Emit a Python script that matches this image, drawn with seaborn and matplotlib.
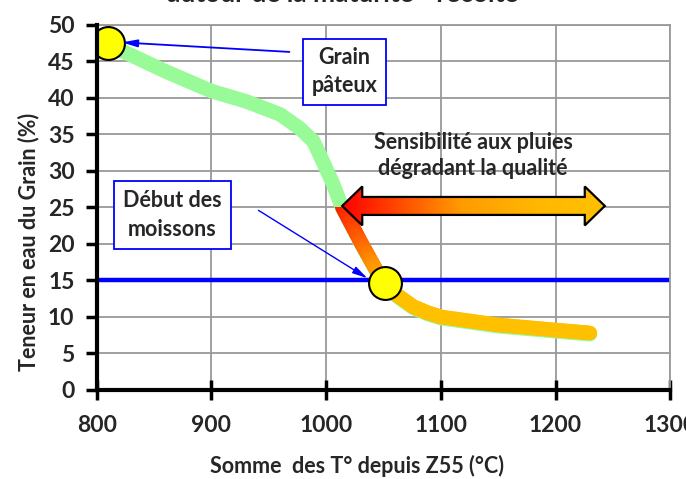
import numpy as np
import matplotlib
matplotlib.use("Agg")
import matplotlib.pyplot as plt
import matplotlib.transforms as mtransforms
from matplotlib.collections import LineCollection
from matplotlib.colors import LinearSegmentedColormap
from matplotlib.patches import Polygon, Rectangle
import seaborn as sns

# === DATA ===
SOMME_T = [810, 860, 900, 930, 960, 977, 989, 997, 1006, 1014, 1030, 1047, 1051, 1060, 1076, 1088, 1100, 1150, 1200, 1230]
TENEUR = [47.5, 43.8, 41.1, 39.7, 37.9, 36.0, 34.2, 31.5, 28.4, 25.1, 20.3, 15.5, 14.7, 13.2, 11.4, 10.6, 10.0, 8.9, 8.2, 7.8]
POINTS_X = [810, 1051]
POINTS_Y = [47.5, 14.7]
SEUIL_MOISSON = 15
DEBUT_SENSIBLE = 1014
X_TICKS = [800, 900, 1000, 1100, 1200, 1300]
Y_TICKS = [0, 5, 10, 15, 20, 25, 30, 35, 40, 45, 50]

# === STYLE ===
sns.set_style("whitegrid")
plt.rcParams["font.family"] = ["Lato", "DejaVu Sans"]
plt.rcParams["font.weight"] = "bold"
plt.rcParams["axes.labelweight"] = "bold"
FS = 15.5
FS_TICK = 16.5

fig = plt.figure(figsize=(6.86, 4.79), dpi=100)
ax = fig.add_axes([0.141, 0.186, 0.836, 0.762])

# green base curve, nudged down a hair so it peeks below the overlay
shift = mtransforms.offset_copy(ax.transData, fig=fig, x=0, y=-1.2, units="dots")
sns.lineplot(x=SOMME_T, y=TENEUR, ax=ax, color="#98fb98", linewidth=10.5,
             solid_capstyle="round", solid_joinstyle="round", transform=shift,
             sort=False, zorder=3)

# gradient overlay (red -> orange -> yellow-orange) from the start of the sensitive zone
xs = np.array(SOMME_T, dtype=float)
ys = np.array(TENEUR, dtype=float)
keep = xs >= DEBUT_SENSIBLE
xk, yk = xs[keep], ys[keep]
seg_x, seg_y = [], []
for i in range(len(xk) - 1):
    t = np.linspace(0, 1, 12, endpoint=False)
    seg_x.extend(xk[i] + t * (xk[i + 1] - xk[i]))
    seg_y.extend(yk[i] + t * (yk[i + 1] - yk[i]))
seg_x.append(xk[-1]); seg_y.append(yk[-1])
pts = np.column_stack([seg_x, seg_y]).reshape(-1, 1, 2)
segs = np.concatenate([pts[:-1], pts[1:]], axis=1)
curve_cmap = LinearSegmentedColormap.from_list(
    "curve", [(0, "#ff1a00"), (0.55, "#ff8800"), (0.85, "#ffbb00"), (1, "#ffc000")])
frac = np.clip((np.array(seg_x[:-1]) - DEBUT_SENSIBLE) / (1060 - DEBUT_SENSIBLE), 0, 1)
lc = LineCollection(segs, colors=curve_cmap(frac), linewidths=10.5, capstyle="round",
                    joinstyle="round", zorder=4)
ax.add_collection(lc)
# cut the rounded top end flat
clip = Rectangle((DEBUT_SENSIBLE - 30, 0), 400, yk[0], transform=ax.transData)
lc.set_clip_path(clip)

# harvest threshold
ax.axhline(SEUIL_MOISSON, color="#0000ff", linewidth=3.2, zorder=2.5)

# yellow markers
sns.scatterplot(x=POINTS_X, y=POINTS_Y, ax=ax, s=560, color="#ffff00",
                edgecolor="black", linewidth=1.5, zorder=6)

# double arrow with gradient fill
AX0, AX1, AY = 1014, 1243, 25.2
head_len, head_h, body_h = 17.5, 2.67, 1.23
arrow_xy = [(AX0, AY), (AX0 + head_len, AY + head_h), (AX0 + head_len, AY + body_h),
            (AX1 - head_len, AY + body_h), (AX1 - head_len, AY + head_h), (AX1, AY),
            (AX1 - head_len, AY - head_h), (AX1 - head_len, AY - body_h),
            (AX0 + head_len, AY - body_h), (AX0 + head_len, AY - head_h)]
arrow = Polygon(arrow_xy, closed=True, facecolor="none", edgecolor="black",
                linewidth=1.6, zorder=5.5)
ax.add_patch(arrow)
arrow_cmap = LinearSegmentedColormap.from_list(
    "arrow", [(0, "#ff0000"), (0.45, "#ff9a00"), (0.75, "#ffb800"), (1, "#ffc000")])
grad = ax.imshow(np.linspace(0, 1, 256).reshape(1, -1), cmap=arrow_cmap, aspect="auto",
                 extent=[AX0, AX1, AY - head_h, AY + head_h], zorder=5, interpolation="bilinear")
grad.set_clip_path(arrow)

# annotations
box = dict(boxstyle="square,pad=0.38", facecolor="white", edgecolor="#0000ff", linewidth=1.3)
ax.text(1016, 43.6, "Grain\npâteux", ha="center", va="center", fontsize=FS,
        fontweight="bold", linespacing=1.45, bbox=box, zorder=7)
ax.annotate("", xy=(822, 47.6), xytext=(968, 46.3),
            arrowprops=dict(arrowstyle="-|>,head_length=0.9,head_width=0.22",
                            color="#0000ff", linewidth=1.3, shrinkA=0, shrinkB=0), zorder=7)
ax.text(866, 24.0, "Début des\nmoissons", ha="center", va="center", fontsize=FS,
        fontweight="bold", linespacing=1.45, bbox=dict(box, boxstyle="square,pad=0.42"), zorder=7)
ax.annotate("", xy=(1036, 15.3), xytext=(941, 24.6),
            arrowprops=dict(arrowstyle="-|>,head_length=0.9,head_width=0.22",
                            color="#0000ff", linewidth=1.0, shrinkA=0, shrinkB=0), zorder=7)
ax.text(1128, 32.1, "Sensibilité aux pluies\ndégradant la qualité", ha="center",
        va="center", fontsize=FS, fontweight="bold", linespacing=1.3, zorder=7)

# axes
ax.set_xlim(800, 1300)
ax.set_ylim(0, 50)
ax.set_xticks(X_TICKS)
ax.set_yticks(Y_TICKS)
ax.tick_params(axis="both", labelsize=FS_TICK, width=2.5, length=8, color="black")
ax.tick_params(axis="x", direction="inout", length=14, pad=11)
ax.tick_params(axis="y", direction="out", left=True, pad=8)
ax.tick_params(axis="x", bottom=True)
for lab in ax.get_xticklabels() + ax.get_yticklabels():
    lab.set_fontweight("bold")
ax.grid(True, color="#999999", linewidth=1.3)
for side in ["top", "right"]:
    ax.spines[side].set_color("#999999")
    ax.spines[side].set_linewidth(1.3)
for side in ["left", "bottom"]:
    ax.spines[side].set_color("black")
    ax.spines[side].set_linewidth(3)
    ax.spines[side].set_zorder(8)
ax.set_xlabel("Somme  des T° depuis Z55 (°C)", fontsize=FS, fontweight="bold")
ax.set_ylabel("Teneur en eau du Grain (%)", fontsize=FS, fontweight="bold")
ax.xaxis.set_label_coords(0.454, -0.178)
ax.yaxis.set_label_coords(-0.10, 0.405)

# title is cropped at the top edge in the original, only its second line peeks in
fig.text(0.5, 0.9965, "autour de la maturité - récolte", ha="center", va="baseline",
         fontsize=19, fontweight="bold")

fig.savefig("out.png", dpi=100)
